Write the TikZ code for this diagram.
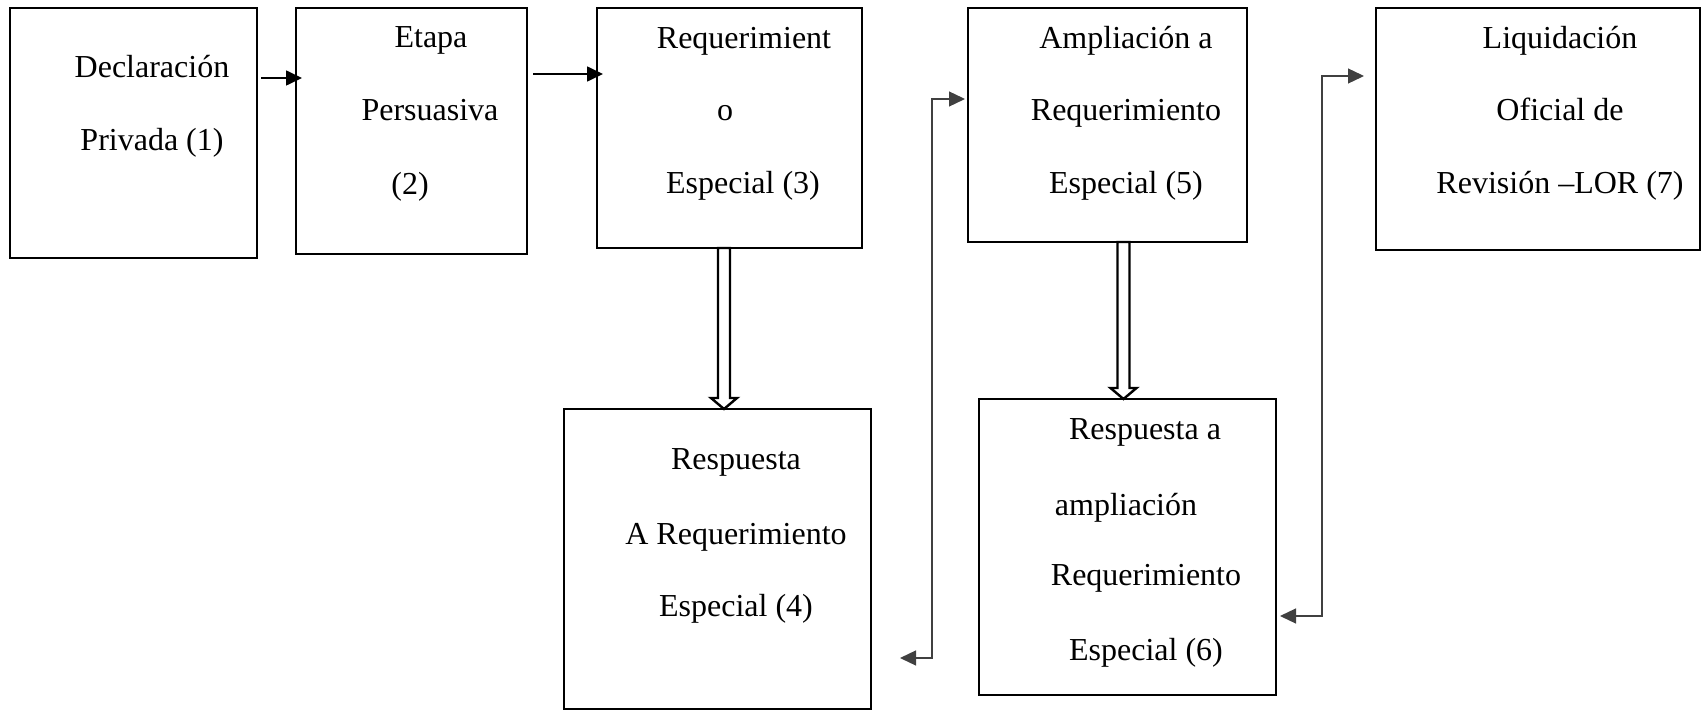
\documentclass[tikz,border=0pt]{standalone}
\usepackage{fontspec}
\setmainfont{Liberation Serif}
\usetikzlibrary{arrows.meta,calc,fit}
\begin{document}
\begin{tikzpicture}[x=0.5pt,y=-0.5pt,
  box/.style={draw, line width=1.3pt, inner sep=0pt, outer sep=0pt},
  lbl/.style={anchor=base, inner sep=0pt, font=\fontsize{16pt}{19pt}\selectfont},
  arr/.style={line width=0.85pt, -{Triangle[length=8pt,width=7.5pt]}},
  conn/.style={line width=0.65pt, draw=black!75, {Triangle[length=8pt,width=7.5pt]}-{Triangle[length=8pt,width=7.5pt]}},
  dbl/.style={draw, line width=1.2pt, fill=white, line join=miter}]
\useasboundingbox (0,0) rectangle (1703,711);
% boxes
\node[box, fit={(10,8) (257,258)}] (b1) {};
\node[box, fit={(296,8) (527,254)}] (b2) {};
\node[box, fit={(597,8) (862,248)}] (b3) {};
\node[box, fit={(564,409) (871,709)}] (b4) {};
\node[box, fit={(968,8) (1247,242)}] (b5) {};
\node[box, fit={(979,399) (1276,695)}] (b6) {};
\node[box, fit={(1376,8) (1700,250)}] (b7) {};
% texts
\node[lbl] (t1a) at (152,78) {Declaración};
\node[lbl] (t1b) at (152,151) {Privada (1)};
\node[lbl] (t2a) at (431,48) {Etapa};
\node[lbl] (t2b) at (430,121) {Persuasiva};
\node[lbl] (t2c) at (410,195) {(2)};
\node[lbl] (t3a) at (744,49) {Requerimient};
\node[lbl] (t3b) at (725,121) {o};
\node[lbl] (t3c) at (743,194) {Especial (3)};
\node[lbl] (t5a) at (1126,49) {Ampliación a};
\node[lbl] (t5b) at (1126,121) {Requerimiento};
\node[lbl] (t5c) at (1126,194) {Especial (5)};
\node[lbl] (t7a) at (1560,49) {Liquidación};
\node[lbl] (t7b) at (1560,121) {Oficial de};
\node[lbl] (t7c) at (1560,194) {Revisión –LOR (7)};
\node[lbl] (t4a) at (736,469) {Respuesta};
\node[lbl] (t4b) at (736,544) {A Requerimiento};
\node[lbl] (t4c) at (736,616) {Especial (4)};
\node[lbl] (t6a) at (1145,439) {Respuesta a};
\node[lbl] (t6b) at (1126,515) {ampliación};
\node[lbl] (t6c) at (1146,585) {Requerimiento};
\node[lbl] (t6d) at (1146,660) {Especial (6)};
% simple arrows
\draw[arr] ($(b1.north east)+(4,70)$) -- ($(b2.north west)+(6,70)$);
\draw[arr] ($(b2.north east)+(6,66)$) -- ($(b3.north west)+(6,66)$);
% hollow block arrows
\coordinate (x34) at (724,0);
\coordinate (x56) at (1123.5,0);
\coordinate (t34) at (b3.south -| x34);
\coordinate (h34) at (b4.north -| x34);
\coordinate (t56) at (b5.south -| x56);
\coordinate (h56) at (b6.north -| x56);
\draw[dbl] ($(t34)+(-6,0)$) -- ($(h34)+(-6,-11)$) -- ($(h34)+(-13,-11)$) -- (h34)
  -- ($(h34)+(13,-11)$) -- ($(h34)+(6,-11)$) -- ($(t34)+(6,0)$) -- cycle;
\draw[dbl] ($(t56)+(-6,0)$) -- ($(h56)+(-6,-11)$) -- ($(h56)+(-13,-11)$) -- (h56)
  -- ($(h56)+(13,-11)$) -- ($(h56)+(6,-11)$) -- ($(t56)+(6,0)$) -- cycle;
% elbow connectors
\coordinate (c45a) at ($(b4.south east)+(29,-51)$);
\coordinate (c45b) at ($(b5.north west)+(-3,91)$);
\draw[conn] (c45a) -- ++(32,0) |- (c45b);
\coordinate (c67a) at ($(b6.south east)+(4,-79)$);
\coordinate (c67b) at ($(b7.north west)+(-12,68)$);
\draw[conn] (c67a) -- ++(42,0) |- (c67b);
\end{tikzpicture}
\end{document}
